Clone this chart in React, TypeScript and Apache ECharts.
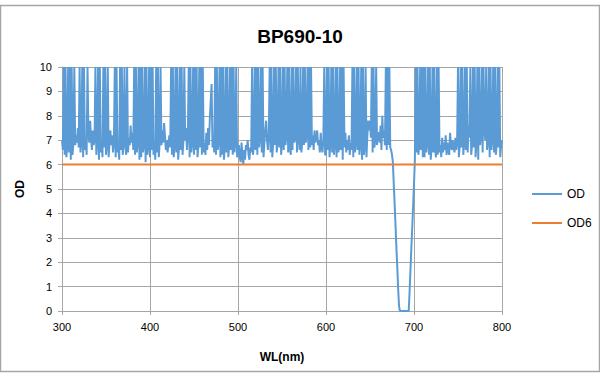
import React, { useEffect, useRef } from "react";
import * as echarts from "echarts";

const title = "BP690-10";
const xTicks = [300, 400, 500, 600, 700, 800];
const wlStart = 300;
const wlStep = 1;
// OD values every 1 nm from 300 to 800 nm (one row = 10 nm)
const odValues = [
  7.0, 6.6, 10, 6.4, 10, 6.3, 6.8, 10, 6.5, 10, // 300
  6.2, 10, 6.4, 6.9, 10, 6.8, 7.2, 6.9, 7.5, 6.7, // 310
  10, 6.5, 6.9, 10, 6.3, 10, 6.6, 7.1, 6.4, 10, // 320
  7.3, 6.9, 7.8, 7.1, 6.6, 7.4, 6.8, 7.0, 10, 6.4, // 330
  6.9, 10, 6.2, 10, 6.5, 7.0, 6.3, 10, 6.7, 10, // 340
  6.4, 6.8, 10, 6.3, 6.9, 7.4, 6.8, 7.2, 6.5, 6.9, // 350
  10, 6.3, 10, 6.5, 6.8, 6.2, 10, 6.6, 10, 6.4, // 360
  6.9, 10, 6.7, 6.4, 10, 6.5, 7.1, 6.8, 7.6, 6.9, // 370
  7.3, 6.6, 10, 6.4, 10, 6.5, 6.9, 10, 6.2, 10, // 380
  6.3, 10, 6.5, 6.8, 10, 6.1, 10, 6.4, 6.7, 10, // 390
  6.3, 10, 6.6, 10, 6.4, 6.9, 6.2, 10, 6.5, 10, // 400
  6.3, 6.9, 10, 6.8, 7.4, 6.9, 7.7, 7.2, 6.6, 7.0, // 410
  6.5, 6.9, 7.2, 6.7, 10, 6.4, 10, 6.3, 6.8, 10, // 420
  6.5, 10, 6.2, 6.7, 10, 6.6, 10, 6.4, 7.0, 10, // 430
  7.0, 7.5, 6.6, 7.2, 10, 6.3, 10, 6.5, 6.9, 10, // 440
  6.4, 10, 6.6, 10, 6.3, 6.8, 10, 6.7, 10, 6.4, // 450
  10, 6.5, 6.9, 6.4, 7.3, 6.6, 7.5, 6.8, 7.9, 8.6, // 460
  9.3, 6.7, 7.2, 6.5, 10, 6.4, 10, 6.6, 6.9, 10, // 470
  6.3, 10, 6.4, 10, 6.2, 6.7, 10, 6.5, 10, 6.3, // 480
  6.8, 10, 6.6, 10, 6.4, 10, 6.5, 6.9, 10, 6.3, // 490
  6.5, 6.8, 6.3, 6.1, 6.9, 6.4, 6.0, 6.6, 6.2, 6.8, // 500
  6.6, 7.0, 6.4, 6.2, 6.7, 6.5, 10, 6.4, 6.8, 10, // 510
  6.6, 10, 6.4, 10, 6.7, 7.1, 10, 6.5, 10, 6.3, // 520
  6.9, 7.4, 7.8, 7.0, 6.6, 7.2, 10, 6.5, 10, 6.3, // 530
  6.9, 10, 6.8, 10, 6.5, 7.0, 10, 6.7, 10, 6.4, // 540
  6.9, 10, 6.6, 10, 6.8, 7.2, 10, 6.5, 10, 6.7, // 550
  6.4, 10, 6.6, 10, 6.9, 7.1, 10, 6.5, 10, 7.0, // 560
  6.6, 10, 6.5, 6.9, 10, 6.8, 10, 6.9, 7.2, 10, // 570
  6.6, 10, 6.7, 10, 6.8, 7.2, 6.6, 7.4, 6.9, 7.1, // 580
  7.4, 6.8, 7.0, 6.5, 7.3, 6.7, 6.5, 7.0, 10, 6.4, // 590
  6.4, 10, 6.6, 10, 6.3, 6.9, 10, 6.5, 10, 6.4, // 600
  6.8, 10, 6.3, 10, 6.5, 6.7, 10, 6.6, 10, 6.2, // 610
  10, 6.7, 7.3, 6.5, 7.0, 6.6, 7.2, 6.4, 6.9, 6.6, // 620
  10, 6.3, 10, 6.5, 6.9, 10, 6.6, 10, 6.4, 6.8, // 630
  10, 6.2, 10, 6.4, 6.7, 10, 6.3, 7.2, 7.8, 7.4, // 640
  7.8, 7.1, 10, 6.5, 10, 6.7, 7.0, 10, 6.8, 7.3, // 650
  7.3, 6.9, 7.6, 6.6, 8.0, 7.1, 7.4, 6.8, 10, 6.6, // 660
  10, 6.8, 10, 6.7, 6.6, 6.4, 6.1, 5.2, 4.4, 3.5, // 670
  2.6, 1.8, 0.9, 0.2, 0, 0, 0, 0, 0, 0, // 680
  0, 0, 0, 0, 0, 0.8, 1.7, 2.6, 3.4, 4.3, // 690
  5.2, 6.2, 10, 6.5, 10, 6.4, 6.8, 10, 6.6, 10, // 700
  6.3, 10, 6.3, 10, 6.5, 6.9, 10, 6.4, 10, 6.2, // 710
  6.7, 10, 6.5, 10, 6.6, 6.3, 10, 6.4, 10, 6.5, // 720
  6.8, 6.3, 7.1, 6.5, 6.9, 6.6, 7.2, 6.4, 6.9, 6.6, // 730
  6.4, 7.3, 6.8, 6.6, 7.0, 6.7, 6.5, 7.1, 6.6, 6.9, // 740
  10, 6.3, 6.8, 10, 6.7, 10, 6.4, 6.9, 10, 6.6, // 750
  10, 6.5, 7.6, 7.1, 10, 6.4, 6.8, 10, 6.7, 10, // 760
  6.3, 6.9, 10, 6.2, 10, 6.8, 7.1, 10, 6.5, 10, // 770
  7.4, 7.0, 10, 6.6, 6.9, 10, 6.3, 10, 6.6, 7.0, // 780
  10, 6.5, 10, 6.4, 6.9, 10, 6.7, 10, 6.3, 6.8, // 790
  7.0, // 800
];
const od6Wl = [300, 800];
const od6Values = [6, 6];

export default function App() {
  const ref = useRef<HTMLDivElement>(null);
  useEffect(() => {
    document.body.style.margin = "0";
    if (!ref.current) return;
    const chart = echarts.init(ref.current, null, { renderer: "svg" });
    const odData = odValues.map((v, i) => [wlStart + i * wlStep, v]);
    const od6Data = od6Wl.map((w, i) => [w, od6Values[i]]);
    const gridColor = "#a6a6a6";
    const font = "'Liberation Sans', 'DejaVu Sans', sans-serif";
    chart.setOption({
      animation: false,
      backgroundColor: "#ffffff",
      textStyle: { fontFamily: font },
      title: {
        text: title,
        left: "center",
        top: 22,
        textStyle: { fontSize: 19, fontWeight: "bold", color: "#000", fontFamily: font },
      },
      graphic: [
        {
          type: "rect",
          shape: { x: 0.5, y: 5.5, width: 599, height: 366 },
          style: { fill: "none", stroke: gridColor, lineWidth: 1.5 },
          silent: true,
        },
      ],
      legend: {
        orient: "vertical",
        left: 527,
        top: 183,
        itemWidth: 30,
        itemHeight: 2,
        itemGap: 17,
        icon: "rect",
        textStyle: { fontSize: 12, color: "#000", fontFamily: font },
        data: ["OD", "OD6"],
      },
      grid: { left: 62, right: 98, top: 67, bottom: 72 },
      xAxis: {
        type: "value",
        min: 300,
        max: 800,
        interval: 100,
        name: "WL(nm)",
        nameLocation: "middle",
        nameGap: 40,
        nameTextStyle: { fontSize: 12, fontWeight: "bold", color: "#000", fontFamily: font },
        axisLine: { lineStyle: { color: gridColor } },
        axisTick: { show: true, length: 4, lineStyle: { color: gridColor } },
        axisLabel: {
          color: "#000",
          fontSize: 11,
          margin: 10,
          customValues: xTicks,
        },
        splitLine: { show: true, lineStyle: { color: gridColor, width: 1 } },
      },
      yAxis: {
        type: "value",
        min: 0,
        max: 10,
        interval: 1,
        name: "OD",
        nameLocation: "middle",
        nameGap: 36,
        nameRotate: 90,
        nameTextStyle: { fontSize: 12, fontWeight: "bold", color: "#000", fontFamily: font },
        axisLine: { show: true, lineStyle: { color: gridColor } },
        axisTick: { show: true, length: 4, lineStyle: { color: gridColor } },
        axisLabel: { color: "#000", fontSize: 11, margin: 10 },
        splitLine: { show: true, lineStyle: { color: gridColor, width: 1 } },
      },
      series: [
        {
          name: "OD",
          type: "line",
          data: odData,
          showSymbol: false,
          symbol: "none",
          color: "#5b9bd5",
          lineStyle: { width: 2, color: "#5b9bd5" },
        },
        {
          name: "OD6",
          type: "line",
          data: od6Data,
          showSymbol: false,
          symbol: "none",
          color: "#ed7d31",
          lineStyle: { width: 2, color: "#ed7d31" },
        },
      ],
    });
    return () => chart.dispose();
  }, []);
  return <div ref={ref} style={{ width: 600, height: 383 }} />;
}
